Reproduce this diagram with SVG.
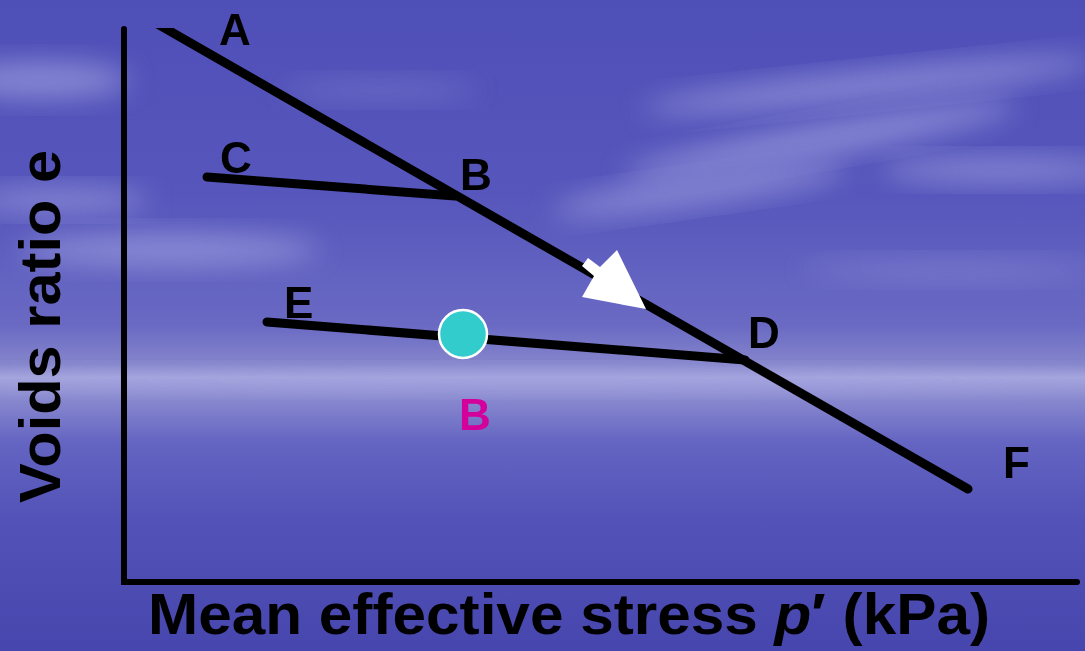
<svg xmlns="http://www.w3.org/2000/svg" width="1085" height="651" viewBox="0 0 1085 651">
<defs>
<linearGradient id="sky" x1="0" y1="0" x2="0" y2="1">
<stop offset="0" stop-color="#4f4fb8"/>
<stop offset="0.3" stop-color="#5656bc"/>
<stop offset="0.5" stop-color="#6a6ac4"/>
<stop offset="0.56" stop-color="#8585cc"/>
<stop offset="0.58" stop-color="#a6a6de"/>
<stop offset="0.61" stop-color="#8a8ad0"/>
<stop offset="0.68" stop-color="#6464c2"/>
<stop offset="0.8" stop-color="#5252b8"/>
<stop offset="1" stop-color="#4646ae"/>
</linearGradient>
<filter id="blur" x="-50%" y="-50%" width="200%" height="200%">
<feGaussianBlur stdDeviation="14"/>
</filter>
<clipPath id="topclip"><rect x="0" y="28" width="1085" height="623"/></clipPath>
<style>
.ln{stroke:#000;stroke-width:9;fill:none;stroke-linecap:round}
.ax{stroke:#000;stroke-width:6;fill:none;stroke-linecap:round}
.lbl{font-family:"Liberation Sans",Arial,sans-serif;font-weight:bold;font-size:44px;fill:#000}
.axt{font-family:"Liberation Sans",Arial,sans-serif;font-weight:bold;font-size:58px;fill:#000}
.cl{fill:#a0a0e0;filter:url(#blur)}
</style>
</defs>
<rect x="0" y="0" width="1085" height="651" fill="url(#sky)"/>
<g id="clouds" opacity="0.7">
<ellipse class="cl" cx="40" cy="80" rx="90" ry="18"/>
<ellipse class="cl" cx="870" cy="85" rx="230" ry="14" transform="rotate(-6 870 85)"/>
<ellipse class="cl" cx="820" cy="140" rx="200" ry="16" transform="rotate(-10 820 140)"/>
<ellipse class="cl" cx="700" cy="190" rx="150" ry="14" transform="rotate(-8 700 190)"/>
<ellipse class="cl" cx="1000" cy="170" rx="120" ry="12"/>
<ellipse class="cl" cx="170" cy="250" rx="150" ry="16"/>
<ellipse class="cl" cx="60" cy="200" rx="90" ry="12"/>
<ellipse class="cl" cx="380" cy="90" rx="100" ry="10" opacity="0.5"/>
<ellipse class="cl" cx="950" cy="270" rx="150" ry="10" opacity="0.6"/>
<ellipse class="cl" cx="550" cy="380" rx="600" ry="10"/>
</g>
<g id="axes">
<path class="ax" d="M124,29 L124,582 L1077,582"/>
</g>
<g id="connectors">
<path class="ln" d="M154,22 L968,489" clip-path="url(#topclip)"/>
<path class="ln" d="M207,177 L455,196"/>
<path class="ln" d="M267,322 L745,360"/>
</g>
<g id="arrow">
<polygon points="588,258 600,267 617,250 646,309 582,297 594,276 582,266" fill="#fff"/>
</g>
<g id="node-A"><text class="lbl" x="219" y="45">A</text></g>
<g id="node-C"><text class="lbl" x="220" y="173">C</text></g>
<g id="node-B"><text class="lbl" x="460" y="190">B</text></g>
<g id="node-E"><text class="lbl" x="284" y="318">E</text></g>
<g id="node-D"><text class="lbl" x="748" y="348">D</text></g>
<g id="node-F"><text class="lbl" x="1003" y="478">F</text></g>
<g id="node-point">
<circle cx="463" cy="334" r="24" fill="#33cccc" stroke="#fff" stroke-width="2.5"/>
<text class="lbl" x="459" y="430" style="fill:#d4009c">B</text>
</g>
<g id="axis-labels">
<text class="axt" x="148" y="634" textLength="842" lengthAdjust="spacingAndGlyphs">Mean effective stress <tspan font-style="italic">p</tspan>′ (kPa)</text>
<text class="axt" transform="translate(60,503) rotate(-90)" x="0" y="0" textLength="353" lengthAdjust="spacingAndGlyphs">Voids ratio e</text>
</g>
</svg>
